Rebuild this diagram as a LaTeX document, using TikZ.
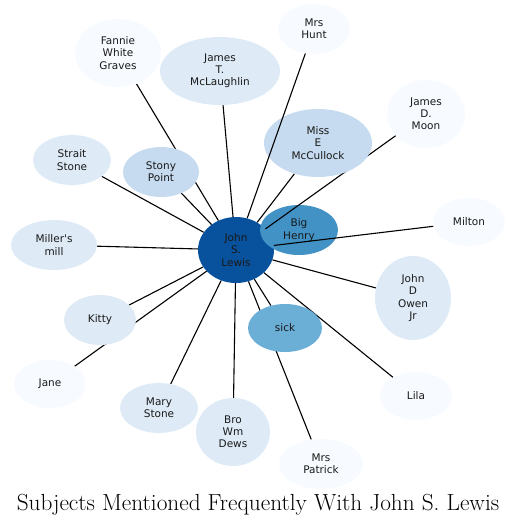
\documentclass[tikz,border=0pt]{standalone}
\usepackage{fontspec}
\newfontfamily\labelfont{DejaVu Sans}
\usetikzlibrary{shapes.geometric}
\definecolor{blue0}{HTML}{F7FBFF}
\definecolor{blue1}{HTML}{DEEBF7}
\definecolor{blue2}{HTML}{C6DBEF}
\definecolor{blue4}{HTML}{6BAED6}
\definecolor{blue5}{HTML}{4292C6}
\definecolor{blue7}{HTML}{08519C}
\pgfdeclarelayer{under}
\pgfdeclarelayer{links}
\pgfdeclarelayer{over}
\pgfsetlayers{under,links,main,over}
\tikzset{
  subject/.style={ellipse, inner sep=0pt, align=center, text=black!90, font=\labelfont\fontsize{10.5}{12.2}\selectfont},
  dims/.style 2 args={minimum width=#1, minimum height=#2},
  link/.style={line width=1.1pt, black},
  caption/.style={font=\fontsize{23.3}{28}\selectfont, anchor=base}
}

\begin{document}
\begin{tikzpicture}[x=1pt,y=-1pt]
\useasboundingbox (0,0) rectangle (517,525);
\begin{pgfonlayer}{under}
\node[subject, fill=blue7, dims={76}{66}] (lewis) at (236,250) {John\\S.\\Lewis};
\node[subject, fill=blue5, dims={78}{50}] (henry) at (299,230) {Big\\Henry};
\end{pgfonlayer}
\node[subject, fill=blue4, dims={74}{48}] (sick) at (285,328) {sick};
\node[subject, fill=blue2, dims={108}{68}] (mccullock) at (318,143) {Miss\\E\\McCullock};
\node[subject, fill=blue2, dims={76}{50}] (stony) at (161,172) {Stony\\Point};
\node[subject, fill=blue1, dims={120}{68}] (mclaughlin) at (220,71) {James\\T.\\McLaughlin};
\node[subject, fill=blue0, dims={86}{68}] (fannie) at (118,53) {Fannie\\White\\Graves};
\node[subject, fill=blue0, dims={72}{50}] (hunt) at (314,29) {Mrs\\Hunt};
\node[subject, fill=blue0, dims={78}{68}] (moon) at (426,114) {James\\D.\\Moon};
\node[subject, fill=blue0, dims={72}{48}] (milton) at (469,222) {Milton};
\node[subject, fill=blue1, dims={78}{50}] (strait) at (72,160) {Strait\\Stone};
\node[subject, fill=blue1, dims={86}{50}] (mill) at (54,245) {Miller's\\mill};
\node[subject, fill=blue1, dims={72}{50}] (kitty) at (100,320) {Kitty};
\node[subject, fill=blue0, dims={72}{48}] (jane) at (50,384) {Jane};
\node[subject, fill=blue1, dims={78}{50}] (mary) at (159,408) {Mary\\Stone};
\node[subject, fill=blue1, dims={74}{68}] (dews) at (233,432) {Bro\\Wm\\Dews};
\node[subject, fill=blue0, dims={84}{50}] (patrick) at (321,464) {Mrs\\Patrick};
\node[subject, fill=blue0, dims={72}{48}] (lila) at (416,396) {Lila};
\node[subject, fill=blue1, dims={76}{84}] (owen) at (413,298) {John\\D\\Owen\\Jr};
\begin{pgfonlayer}{links}
\foreach \n in {sick,mccullock,stony,mclaughlin,fannie,moon,milton,strait,mill,kitty,jane,mary,dews,patrick,lila,owen}
  \draw[link] (lewis) -- (\n);
\end{pgfonlayer}
% this one runs over McCullock
\begin{pgfonlayer}{over}
\draw[link] (lewis) -- (hunt);
\end{pgfonlayer}
\node[caption] (title) at (258,510) {Subjects Mentioned Frequently With John S. Lewis};
\end{tikzpicture}
\end{document}
